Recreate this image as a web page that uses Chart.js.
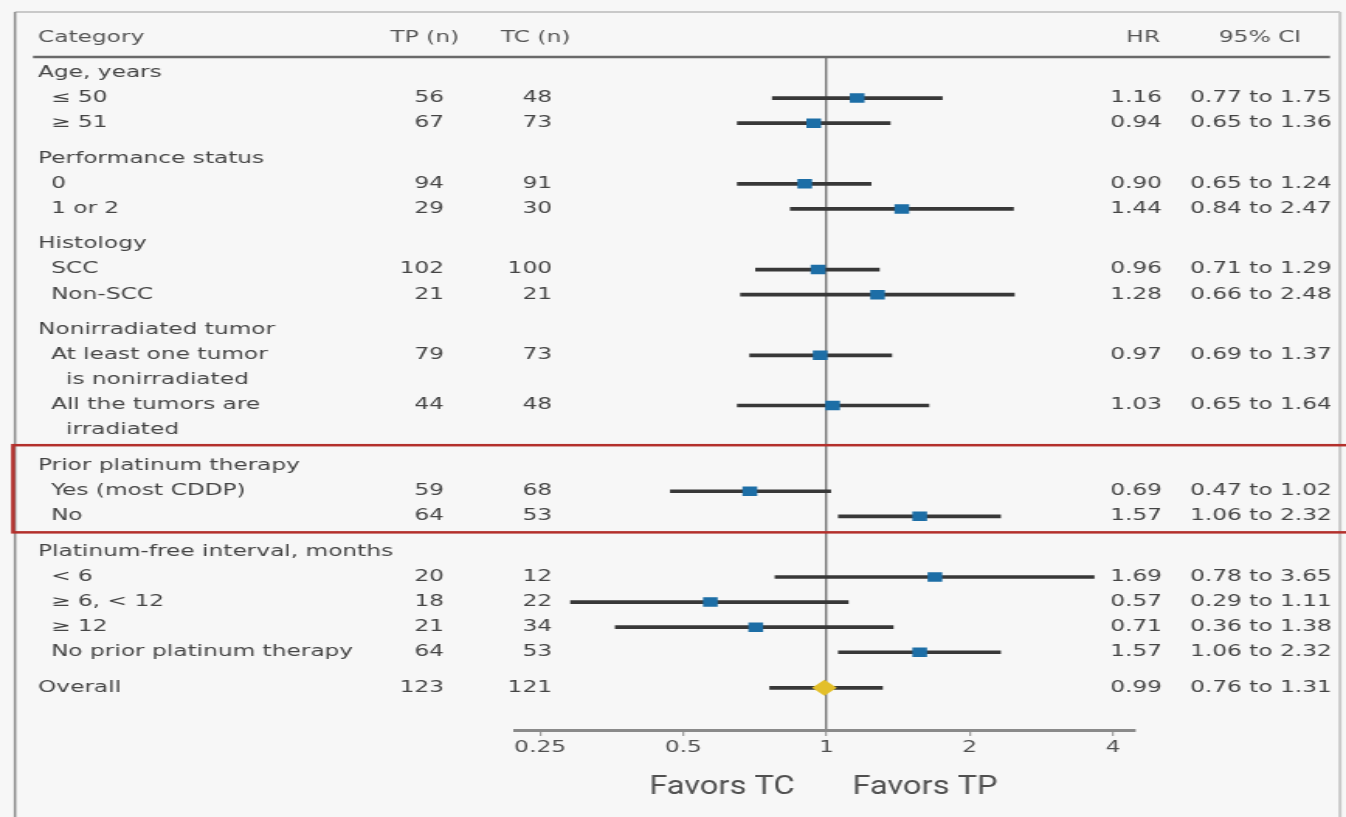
<!DOCTYPE html>
<html>
<head>
<meta charset="utf-8">
<script src="https://cdn.jsdelivr.net/npm/chart.js@4.4.0/dist/chart.umd.min.js"></script>
<style>
  html, body { margin: 0; padding: 0; background: #f7f7f7; overflow: hidden; }
  #forest { display: block; }
</style>
</head>
<body>
<canvas id="forest" width="868" height="817" style="width:1346px;height:817px"></canvas>
<script>
// Subgroup forest plot, TP vs TC

const groupLabels = ['Age, years', 'Performance status', 'Histology', 'Nonirradiated tumor',
    'Prior platinum therapy', 'Platinum-free interval, months', null];
const rowLabels = ['\u2264 50', '\u2265 51', '0', '1 or 2', 'SCC', 'Non-SCC',
    'At least one tumor\nis nonirradiated', 'All the tumors are\nirradiated',
    'Yes (most CDDP)', 'No', '< 6', '\u2265 6, < 12', '\u2265 12', 'No prior platinum therapy', 'Overall'];
const rowGroup = [0, 0, 1, 1, 2, 2, 3, 3, 4, 4, 5, 5, 5, 5, 6];
const tpN = [56, 67, 94, 29, 102, 21, 79, 44, 59, 64, 20, 18, 21, 64, 123];
const tcN = [48, 73, 91, 30, 100, 21, 73, 48, 68, 53, 12, 22, 34, 53, 121];
const hr = [1.16, 0.94, 0.90, 1.44, 0.96, 1.28, 0.97, 1.03, 0.69, 1.57, 1.69, 0.57, 0.71, 1.57, 0.99];
const ciLow = [0.77, 0.65, 0.65, 0.84, 0.71, 0.66, 0.69, 0.65, 0.47, 1.06, 0.78, 0.29, 0.36, 1.06, 0.76];
const ciHigh = [1.75, 1.36, 1.24, 2.47, 1.29, 2.48, 1.37, 1.64, 1.02, 2.32, 3.65, 1.11, 1.38, 2.32, 1.31];
const xTicks = [0.25, 0.5, 1, 2, 4];
const headers = ['Category', 'TP (n)', 'TC (n)', 'HR', '95% CI'];
const favors = ['Favors TC', 'Favors TP'];

// the figure is drawn narrow and shown stretched, like the wide lettering of the original
const STRETCH = 1346 / 868;
const px = v => v / STRETCH;
const GROUP_GAP = 0.42;
const OVERALL = rowLabels.length - 1;
const FONT = '15px "DejaVu Sans"';

// row positions in line units, built from the group structure
const rowY = [];
const headerY = [];
let pos = 0;
groupLabels.forEach((g, gi) => {
    if (gi > 0) pos += GROUP_GAP;
    if (g) { headerY.push(pos); pos += 1; }
    rowLabels.forEach((lab, i) => {
        if (rowGroup[i] !== gi) return;
        rowY[i] = pos;
        pos += lab.split('\n').length;
    });
});

const fmt = v => v.toFixed(2);

const tablePlugin = {
    id: 'table',
    beforeDraw(chart) {
        const ctx = chart.ctx;
        ctx.save();
        ctx.fillStyle = '#f7f7f7';
        ctx.fillRect(0, 0, chart.width, chart.height);
        ctx.restore();
    },
    afterDraw(chart) {
        const { ctx, chartArea, scales: { y } } = chart;
        ctx.save();

        // frame
        ctx.strokeStyle = '#c9c9c9';
        ctx.lineWidth = 2;
        ctx.beginPath();
        ctx.moveTo(px(15), 12); ctx.lineTo(px(1340), 12);
        ctx.moveTo(px(1340), 12); ctx.lineTo(px(1340), chart.height);
        ctx.stroke();
        ctx.strokeStyle = '#8c8c8c';
        ctx.lineWidth = 1.5;
        ctx.beginPath();
        ctx.moveTo(px(15), 12); ctx.lineTo(px(15), chart.height);
        ctx.stroke();

        // header rule
        ctx.strokeStyle = '#6a6a6a';
        ctx.lineWidth = 2.5;
        ctx.beginPath();
        ctx.moveTo(px(33), chartArea.top); ctx.lineTo(px(1330), chartArea.top);
        ctx.stroke();

        ctx.font = FONT;
        ctx.textBaseline = 'middle';
        const put = (s, xx, yy, align) => { ctx.textAlign = align; ctx.fillText(s, xx, yy); };

        // column headers
        const hy = chartArea.top - 19;
        ctx.fillStyle = '#555';
        put(headers[0], px(38), hy, 'left');
        put(headers[1], px(459), hy, 'right');
        put(headers[2], px(501), hy, 'left');
        put(headers[3], px(1160), hy, 'right');
        put(headers[4], px(1260), hy, 'center');

        ctx.fillStyle = '#454545';
        groupLabels.filter(g => g).forEach((g, i) => put(g, px(38), y.getPixelForValue(headerY[i]), 'left'));

        rowLabels.forEach((lab, i) => {
            const yy = y.getPixelForValue(rowY[i]);
            const lines = lab.split('\n');
            const indent = groupLabels[rowGroup[i]] ? 51 : 38;
            put(lines[0], px(indent), yy, 'left');
            if (lines[1]) put(lines[1], px(indent + 15), y.getPixelForValue(rowY[i] + 1), 'left');
            put(String(tpN[i]), px(444), yy, 'right');
            put(String(tcN[i]), px(552), yy, 'right');
            put(fmt(hr[i]), px(1162), yy, 'right');
            put(fmt(ciLow[i]) + ' to ' + fmt(ciHigh[i]), px(1190), yy, 'left');
        });

        // highlight box round prior platinum therapy
        const top = y.getPixelForValue(headerY[4]) - 21;
        const bottom = y.getPixelForValue(rowY[9]) + 16;
        ctx.strokeStyle = '#b3302c';
        ctx.lineWidth = 2.5;
        ctx.strokeRect(px(13), top, chart.width, bottom - top);

        // favors labels, a tall narrow face
        ctx.font = '25px Roboto';
        ctx.fillStyle = '#505050';
        ctx.textAlign = 'center';
        [722, 925].forEach((cx, i) => {
            ctx.save();
            ctx.translate(px(cx), chartArea.bottom + 58);
            ctx.scale(0.84, 1);
            ctx.fillText(favors[i], 0, 0);
            ctx.restore();
        });
        ctx.restore();
    }
};

new Chart(document.getElementById('forest'), {
    type: 'scatter',
    data: {
        datasets: [{
            type: 'bar',
            indexAxis: 'y',
            data: rowY.map((v, i) => ({ y: v, x: [ciLow[i], ciHigh[i]] })),
            backgroundColor: '#383838',
            barThickness: 3,
            order: 2
        }, {
            type: 'scatter',
            data: rowY.map((v, i) => ({ x: hr[i], y: v })),
            pointStyle: c => c.dataIndex === OVERALL ? 'rectRot' : 'rect',
            pointRadius: c => c.dataIndex === OVERALL ? 8 : 6.7,
            backgroundColor: c => c.dataIndex === OVERALL ? '#e3bf2a' : '#1d6ea6',
            borderWidth: 0,
            order: 1
        }]
    },
    options: {
        responsive: false,
        animation: false,
        events: [],
        layout: { padding: { left: px(516), right: 868 - px(1134), top: 57, bottom: 27 } },
        plugins: { legend: { display: false }, tooltip: { enabled: false } },
        scales: {
            x: {
                type: 'logarithmic',
                min: 0.2225,
                max: 4.43,
                offset: false,
                beginAtZero: false,
                afterBuildTicks: s => { s.ticks = xTicks.map(v => ({ value: v })); },
                afterFit: s => { s.height = 60; },
                border: { display: true, color: '#8a8a8a', width: 3 },
                grid: {
                    offset: false,
                    color: c => c.tick && c.tick.value === 1 ? '#777' : 'rgba(0,0,0,0)',
                    lineWidth: 1.4,
                    tickColor: '#8a8a8a',
                    tickLength: 6,
                    tickWidth: 1
                },
                ticks: {
                    autoSkip: false,
                    maxRotation: 0,
                    padding: 3,
                    color: '#505050',
                    font: { family: 'DejaVu Sans', size: 15 },
                    callback: v => String(v)
                }
            },
            y: {
                type: 'linear',
                display: false,
                reverse: true,
                offset: false,
                grid: { offset: false },
                min: -0.638,
                max: 26.2
            }
        }
    },
    plugins: [tablePlugin]
});
</script>
</body>
</html>
